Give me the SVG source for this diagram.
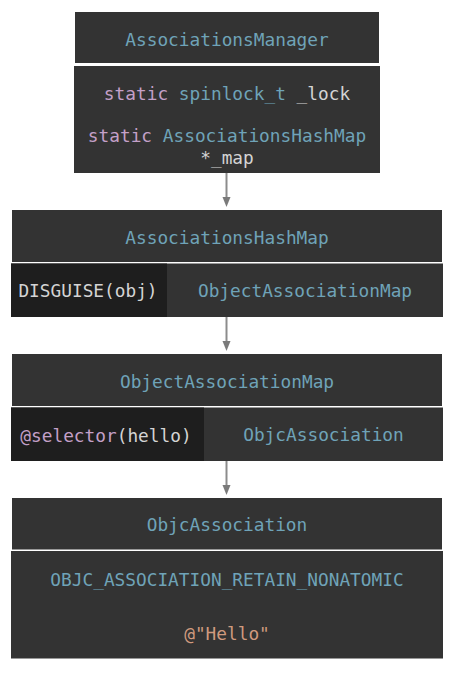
<svg xmlns="http://www.w3.org/2000/svg" width="454" height="698" viewBox="0 0 454 698">
<style>
.bg{fill:#333333}
.key{fill:#1e1e1e}
text{font-family:"DejaVu Sans Mono","Liberation Mono",monospace;font-size:17.8px;text-anchor:middle;dominant-baseline:central}
.b{fill:#6fa3b8}
.p{fill:#c4a0c8}
.w{fill:#d4d4d4}
.o{fill:#d09a7e}
.c{stroke:#8c8c8c;stroke-width:2;fill:none}
.ah{fill:#7a7a7a}
</style>
<rect width="454" height="698" fill="#ffffff"/>
<g id="connectors">
<path class="c" d="M226.5 173V199"/>
<polygon class="ah" points="222.5,197 230.5,197 226.5,207"/>
<path class="c" d="M226.5 317V343"/>
<polygon class="ah" points="222.5,341 230.5,341 226.5,351"/>
<path class="c" d="M226.5 461V487"/>
<polygon class="ah" points="222.5,485 230.5,485 226.5,495"/>
</g>
<g id="AssociationsManager">
<rect class="bg" x="75" y="12" width="304" height="51"/>
<text x="227" y="39" class="b">AssociationsManager</text>
<rect class="bg" x="74" y="66" width="306" height="107"/>
<text x="227" y="93"><tspan class="p">static</tspan> <tspan class="b">spinlock_t</tspan> <tspan class="w">_lock</tspan></text>
<text x="227" y="135"><tspan class="p">static</tspan> <tspan class="b">AssociationsHashMap</tspan></text>
<text x="227" y="157" class="w">*_map</text>
</g>
<g id="AssociationsHashMap">
<rect class="bg" x="12" y="210" width="430" height="52"/>
<text x="227" y="237" class="b">AssociationsHashMap</text>
<rect class="bg" x="11" y="263.5" width="432" height="53.5"/>
<rect class="key" x="11" y="263.5" width="156" height="53.5"/>
<text x="88" y="290.5" class="w">DISGUISE(obj)</text>
<text x="305" y="290.5" class="b">ObjectAssociationMap</text>
</g>
<g id="ObjectAssociationMap">
<rect class="bg" x="12" y="354" width="430" height="52"/>
<text x="227" y="381" class="b">ObjectAssociationMap</text>
<rect class="bg" x="11" y="407.5" width="432" height="53.5"/>
<rect class="key" x="11" y="407.5" width="193" height="53.5"/>
<text x="106" y="434.5"><tspan class="p">@selector</tspan><tspan class="w">(hello)</tspan></text>
<text x="323.5" y="434.5" class="b">ObjcAssociation</text>
</g>
<g id="ObjcAssociation">
<rect class="bg" x="12" y="498" width="430" height="51.5"/>
<text x="227" y="524.5" class="b">ObjcAssociation</text>
<rect class="bg" x="11" y="551" width="432" height="107.5"/>
<text x="227" y="579" class="b">OBJC_ASSOCIATION_RETAIN_NONATOMIC</text>
<text x="227" y="633" class="o">@"Hello"</text>
</g>
</svg>
